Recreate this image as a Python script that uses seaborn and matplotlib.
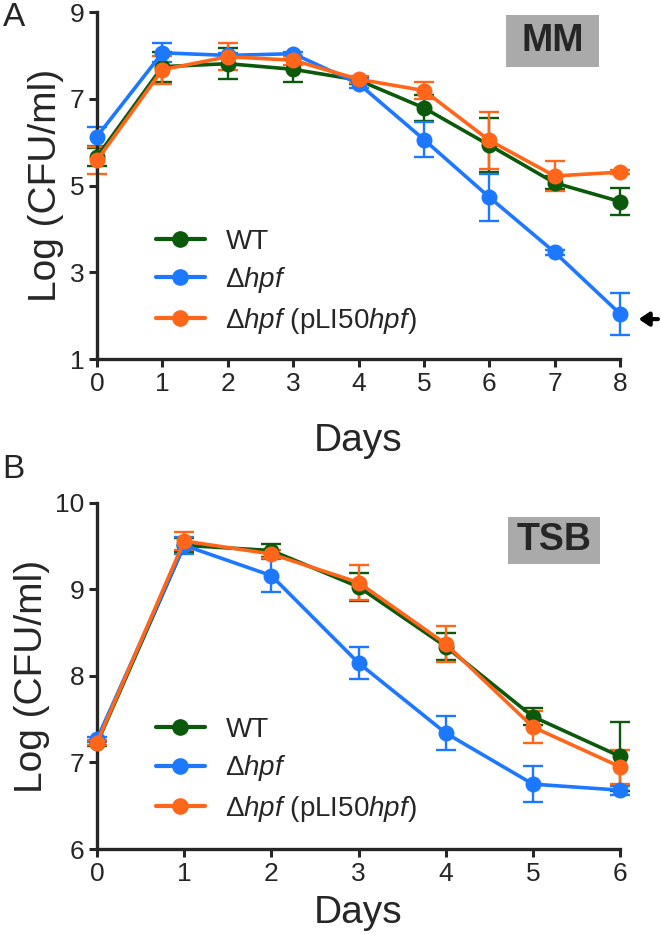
import numpy as np
import pandas as pd
import seaborn as sns
import matplotlib
matplotlib.use("Agg")
from matplotlib import pyplot as plt
from matplotlib.patches import Rectangle

# ---- data ----
days_mm = [0, 1, 2, 3, 4, 5, 6, 7, 8]
wt_mm = [5.66, 7.74, 7.81, 7.68, 7.43, 6.79, 5.93, 5.06, 4.63]
wt_mm_err = [0.2, 0.35, 0.35, 0.3, 0.08, 0.3, 0.62, 0.15, 0.31]
hpf_mm = [6.13, 8.06, 8.00, 8.04, 7.35, 6.06, 4.73, 3.46, 2.04]
hpf_mm_err = [0.22, 0.22, 0.05, 0.05, 0.1, 0.41, 0.54, 0.05, 0.49]
comp_mm = [5.58, 7.67, 7.97, 7.89, 7.45, 7.19, 6.04, 5.22, 5.31]
comp_mm_err = [0.32, 0.32, 0.31, 0.1, 0.08, 0.2, 0.66, 0.35, 0.05]

days_tsb = [0, 1, 2, 3, 4, 5, 6]
wt_tsb = [7.22, 9.51, 9.45, 9.03, 8.34, 7.53, 7.07]
wt_tsb_err = [0.03, 0.08, 0.08, 0.16, 0.16, 0.1, 0.4]
hpf_tsb = [7.27, 9.51, 9.16, 8.15, 7.34, 6.75, 6.68]
hpf_tsb_err = [0.03, 0.1, 0.19, 0.19, 0.2, 0.21, 0.05]
comp_tsb = [7.23, 9.56, 9.41, 9.08, 8.37, 7.41, 6.95]
comp_tsb_err = [0.03, 0.1, 0.05, 0.2, 0.21, 0.19, 0.2]

labels = ["WT", r"$\Delta\mathit{hpf}$",
          r"$\Delta\mathit{hpf}$ (pLI50$\mathit{hpf}$)"]
colors = ["#0b5a0b", "#1c78ff", "#ff661a"]

sns.set_style("ticks")
plt.rcParams["font.family"] = ["Liberation Sans", "DejaVu Sans"]
plt.rcParams["mathtext.fontset"] = "custom"
plt.rcParams["mathtext.rm"] = "Liberation Sans"
plt.rcParams["mathtext.it"] = "Liberation Sans:italic"
plt.rcParams["mathtext.default"] = "regular"

fig = plt.figure(figsize=(6.61, 9.34), dpi=100)
ax_a = fig.add_axes([0.1467, 0.6156, 0.7915, 0.3715])
ax_b = fig.add_axes([0.1467, 0.0910, 0.7915, 0.3705])


def panel(ax, days, series, errs, ylim, yticks, box, box_xy, legend_y,
          xpad):
    rows = []
    for lab, vals in zip(labels, series):
        for d, v in zip(days, vals):
            rows.append({"day": d, "val": v, "strain": lab})
    df = pd.DataFrame(rows)
    for lab, vals, err, col in zip(labels, series, errs, colors):
        ax.errorbar(days, vals, yerr=err, fmt="none", ecolor=col,
                    elinewidth=1.7, capsize=7, capthick=1.7, clip_on=False,
                    zorder=2)
    sns.lineplot(data=df, x="day", y="val", hue="strain", hue_order=labels,
                 palette=colors, marker="o", markersize=11.5,
                 markeredgewidth=0, linewidth=2.6, ax=ax, clip_on=False,
                 zorder=3)
    ax.set_xlim(0, days[-1])
    ax.set_ylim(*ylim)
    ax.set_xticks(days)
    ax.set_yticks(yticks)
    ax.tick_params(width=2.2, length=6, labelsize=19, pad=3)
    for s in ["left", "bottom"]:
        ax.spines[s].set_linewidth(2.4)
    sns.despine(ax=ax)
    ax.set_xlabel("Days", fontsize=28, labelpad=xpad)
    ax.set_ylabel("Log (CFU/ml)", fontsize=28, labelpad=4)
    # grey label box (pixel rectangle converted to figure fraction)
    x0, y0, w, h = box_xy
    fig.patches.append(Rectangle((x0 / 661, 1 - (y0 + h) / 934), w / 661,
                                 h / 934, transform=fig.transFigure,
                                 fc="#aaaaaa", ec="none"))
    fig.text((x0 + w / 2) / 661, 1 - (y0 + h / 2) / 934, box, fontsize=27,
             fontweight="bold", ha="center", va="center")
    leg = ax.legend(loc="lower left", bbox_to_anchor=(0.065, legend_y),
                    frameon=False, fontsize=20, handlelength=1.75,
                    handletextpad=0.75, labelspacing=0.38)
    for h in leg.legend_handles:
        h.set_linewidth(3)
        h.set_markersize(12)


panel(ax_a, days_mm, [wt_mm, hpf_mm, comp_mm],
      [wt_mm_err, hpf_mm_err, comp_mm_err], (1, 9), [1, 3, 5, 7, 9],
      "MM", (506, 15, 93, 52), -0.005, 20)
panel(ax_b, days_tsb, [wt_tsb, hpf_tsb, comp_tsb],
      [wt_tsb_err, hpf_tsb_err, comp_tsb_err], (6, 10), [6, 7, 8, 9, 10],
      "TSB", (508, 517, 92, 47), 0.0, 7)

# arrow marking the detection limit on day 8
ax_a.annotate("", xy=(8.24, hpf_mm[-1] - 0.12),
              xytext=(8.62, hpf_mm[-1] - 0.12),
              xycoords="data", annotation_clip=False,
              arrowprops=dict(arrowstyle="-|>,head_width=0.4,head_length=0.6",
                              color="black", lw=3))

fig.text(0.004, 0.981, "A", fontsize=24, va="center", ha="left")
fig.text(0.004, 0.497, "B", fontsize=24, va="center", ha="left")

fig.savefig("out.png", dpi=100)
